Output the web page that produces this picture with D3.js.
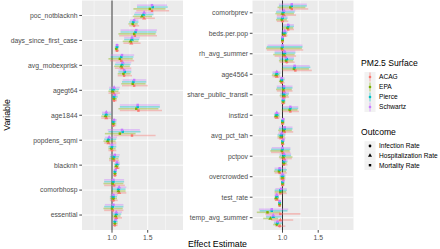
<!DOCTYPE html>
<html>
<head>
<meta charset="utf-8">
<script src="https://cdn.jsdelivr.net/npm/d3@7"></script>
<style>
  body { margin: 0; background: #fff; }
  text { font-family: "Liberation Sans", Arial, sans-serif; }
</style>
</head>
<body>
<svg id="chart" width="440" height="249"></svg>
<script>
// variables in each panel, top to bottom
const leftVars = ["poc_notblacknh", "days_since_first_case", "avg_mobexprisk", "agegt64",
  "age1844", "popdens_sqmi", "blacknh", "comorbhosp", "essential"];
const rightVars = ["comorbprev", "beds.per.pop", "rh_avg_summer", "age4564",
  "share_public_transit", "instlzd", "avg_pct_tah", "pctpov", "overcrowded",
  "test_rate", "temp_avg_summer"];
const surfaces = ["ACAG", "EPA", "Pierce", "Schwartz"];
const outcomes = ["Infection Rate", "Hospitalization Rate", "Mortality Rate"];
const xTicks = [1.0, 1.5];

// [estimate, lower, upper] per surface (ACAG, EPA, Pierce, Schwartz), one row per variable
const infection = {
  poc_notblacknh:        [[1.31,1.24,1.38],[1.29,1.23,1.36],[1.30,1.24,1.37],[1.31,1.25,1.37]],
  days_since_first_case: [[1.07,1.04,1.10],[1.06,1.04,1.09],[1.07,1.04,1.10],[1.07,1.05,1.10]],
  avg_mobexprisk:        [[1.17,1.08,1.28],[1.16,1.08,1.26],[1.18,1.09,1.27],[1.17,1.09,1.27]],
  agegt64:               [[1.03,1.00,1.07],[1.03,1.00,1.07],[1.03,1.00,1.08],[1.04,1.01,1.08]],
  age1844:               [[1.02,0.99,1.06],[1.02,0.99,1.06],[1.02,0.99,1.06],[1.03,1.00,1.07]],
  popdens_sqmi:          [[1.00,0.95,1.06],[0.99,0.95,1.05],[1.00,0.95,1.06],[1.00,0.96,1.06]],
  blacknh:               [[1.04,1.02,1.07],[1.04,1.02,1.07],[1.04,1.02,1.07],[1.05,1.02,1.07]],
  comorbhosp:            [[1.02,0.97,1.08],[1.02,0.97,1.07],[1.02,0.97,1.07],[1.02,0.98,1.08]],
  essential:             [[1.04,1.01,1.08],[1.04,1.01,1.08],[1.04,1.01,1.08],[1.05,1.02,1.08]],
  comorbprev:            [[1.00,0.92,1.08],[0.99,0.91,1.06],[1.00,0.92,1.07],[1.00,0.92,1.07]],
  "beds.per.pop":        [[1.00,0.98,1.02],[1.00,0.98,1.02],[1.00,0.99,1.02],[1.00,0.99,1.02]],
  rh_avg_summer:         [[1.06,0.96,1.17],[1.05,0.95,1.15],[1.06,0.96,1.16],[1.05,0.95,1.16]],
  age4564:               [[0.99,0.96,1.03],[0.98,0.95,1.02],[0.99,0.96,1.03],[0.99,0.96,1.03]],
  share_public_transit:  [[1.01,0.98,1.04],[1.01,0.98,1.04],[1.01,0.98,1.04],[1.01,0.99,1.04]],
  instlzd:               [[1.00,0.98,1.03],[1.00,0.98,1.03],[1.00,0.98,1.03],[1.01,0.99,1.03]],
  avg_pct_tah:           [[1.00,0.98,1.03],[1.00,0.98,1.02],[1.00,0.98,1.03],[1.01,0.99,1.03]],
  pctpov:                [[1.02,0.99,1.07],[1.02,0.99,1.06],[1.02,0.99,1.07],[1.03,1.00,1.07]],
  overcrowded:           [[1.00,0.98,1.03],[1.00,0.98,1.03],[1.00,0.98,1.03],[1.01,0.99,1.03]],
  test_rate:             [[0.96,0.94,0.98],[0.96,0.94,0.98],[0.96,0.94,0.98],[0.96,0.94,0.98]],
  temp_avg_summer:       [[0.96,0.90,1.04],[0.92,0.87,0.98],[0.93,0.88,1.00],[0.93,0.88,1.00]]
};
const hospitalization = {
  poc_notblacknh:        [[1.45,1.31,1.60],[1.42,1.29,1.56],[1.44,1.31,1.58],[1.45,1.32,1.58]],
  days_since_first_case: [[1.27,1.16,1.40],[1.26,1.15,1.37],[1.28,1.17,1.38],[1.28,1.17,1.39]],
  avg_mobexprisk:        [[1.14,1.04,1.27],[1.13,1.03,1.25],[1.14,1.04,1.26],[1.15,1.05,1.27]],
  agegt64:               [[1.02,0.95,1.11],[1.01,0.95,1.09],[1.02,0.96,1.10],[1.03,0.96,1.11]],
  age1844:               [[0.92,0.85,0.99],[0.91,0.85,0.98],[0.92,0.86,0.99],[0.92,0.86,0.99]],
  popdens_sqmi:          [[0.95,0.89,1.06],[0.94,0.88,1.05],[0.95,0.89,1.06],[0.96,0.90,1.07]],
  blacknh:               [[1.07,1.03,1.11],[1.06,1.03,1.10],[1.07,1.03,1.11],[1.07,1.04,1.11]],
  comorbhosp:            [[1.10,1.00,1.20],[1.09,0.99,1.19],[1.09,1.00,1.19],[1.10,1.01,1.20]],
  essential:             [[1.06,1.01,1.14],[1.05,1.00,1.12],[1.06,1.01,1.13],[1.06,1.01,1.14]],
  comorbprev:            [[1.02,0.92,1.19],[1.00,0.90,1.16],[1.01,0.91,1.17],[1.02,0.92,1.18]],
  "beds.per.pop":        [[1.03,0.98,1.07],[1.02,0.98,1.06],[1.03,0.98,1.07],[1.03,0.99,1.07]],
  rh_avg_summer:         [[1.03,0.89,1.19],[1.02,0.87,1.17],[1.03,0.89,1.18],[1.03,0.89,1.18]],
  age4564:               [[0.92,0.86,0.97],[0.91,0.85,0.96],[0.92,0.86,0.97],[0.92,0.86,0.97]],
  share_public_transit:  [[1.02,0.97,1.09],[1.02,0.96,1.08],[1.02,0.97,1.09],[1.03,0.97,1.09]],
  instlzd:               [[0.92,0.88,0.96],[0.91,0.88,0.96],[0.92,0.88,0.96],[0.92,0.89,0.96]],
  avg_pct_tah:           [[0.98,0.93,1.04],[0.98,0.93,1.03],[0.98,0.93,1.04],[0.99,0.94,1.04]],
  pctpov:                [[1.02,0.96,1.13],[1.01,0.95,1.14],[1.02,0.96,1.12],[1.02,0.96,1.12]],
  overcrowded:           [[1.00,0.96,1.04],[1.00,0.96,1.04],[1.00,0.96,1.04],[1.00,0.96,1.04]],
  test_rate:             [[0.92,0.89,0.95],[0.91,0.89,0.95],[0.92,0.89,0.95],[0.92,0.89,0.95]],
  temp_avg_summer:       [[0.97,0.84,1.15],[0.83,0.73,0.94],[0.87,0.77,0.99],[0.87,0.77,0.99]]
};
const mortality = {
  poc_notblacknh:        [[1.56,1.34,1.80],[1.53,1.30,1.75],[1.57,1.35,1.78],[1.56,1.35,1.77]],
  days_since_first_case: [[1.32,1.10,1.63],[1.31,1.09,1.61],[1.33,1.12,1.62],[1.34,1.12,1.63]],
  avg_mobexprisk:        [[1.13,0.97,1.31],[1.11,0.95,1.29],[1.13,0.98,1.30],[1.14,0.98,1.31]],
  agegt64:               [[1.31,1.14,1.50],[1.29,1.13,1.47],[1.30,1.14,1.48],[1.31,1.15,1.48]],
  age1844:               [[1.37,1.11,1.70],[1.34,1.09,1.65],[1.36,1.11,1.67],[1.36,1.11,1.67]],
  popdens_sqmi:          [[1.28,1.02,1.61],[1.11,0.90,1.33],[1.15,0.95,1.40],[1.14,0.94,1.39]],
  blacknh:               [[1.03,0.96,1.10],[1.02,0.96,1.09],[1.03,0.97,1.10],[1.04,0.97,1.11]],
  comorbhosp:            [[1.03,0.89,1.18],[1.01,0.88,1.16],[1.02,0.89,1.17],[1.02,0.89,1.17]],
  essential:             [[1.01,0.89,1.16],[1.00,0.88,1.15],[1.01,0.89,1.16],[1.02,0.90,1.16]],
  comorbprev:            [[1.13,0.95,1.36],[1.11,0.93,1.32],[1.13,0.95,1.34],[1.13,0.95,1.34]],
  "beds.per.pop":        [[1.08,1.01,1.16],[1.07,1.00,1.15],[1.08,1.01,1.16],[1.08,1.01,1.16]],
  rh_avg_summer:         [[1.00,0.78,1.29],[0.99,0.77,1.27],[1.00,0.78,1.28],[1.00,0.79,1.28]],
  age4564:               [[1.18,1.00,1.41],[1.16,0.99,1.37],[1.17,1.00,1.39],[1.17,1.00,1.38]],
  share_public_transit:  [[1.02,0.92,1.14],[1.01,0.91,1.13],[1.02,0.92,1.14],[1.02,0.92,1.14]],
  instlzd:               [[1.11,1.00,1.23],[1.10,0.99,1.21],[1.11,1.00,1.22],[1.11,1.00,1.22]],
  avg_pct_tah:           [[1.03,0.95,1.15],[1.02,0.94,1.13],[1.03,0.95,1.14],[1.03,0.95,1.14]],
  pctpov:                [[1.00,0.84,1.11],[0.99,0.83,1.10],[1.00,0.84,1.11],[1.00,0.85,1.11]],
  overcrowded:           [[0.96,0.89,1.06],[0.95,0.88,1.05],[0.96,0.89,1.06],[0.96,0.89,1.05]],
  test_rate:             [[0.97,0.89,1.06],[0.97,0.89,1.05],[0.97,0.89,1.06],[0.98,0.90,1.06]],
  temp_avg_summer:       [[0.97,0.76,1.25],[0.79,0.64,0.97],[0.85,0.68,1.07],[0.85,0.67,1.08]]
};
const outcomeData = [infection, hospitalization, mortality];

const colors = d3.scaleOrdinal().domain(surfaces)
  .range(["#F8766D", "#7CAE00", "#00BFC4", "#C77CFF"]);
const shapes = [d3.symbolCircle, d3.symbolTriangle, d3.symbolSquare];

const svg = d3.select("#chart");
const panelTop = 0.5, panelBottom = 230;

function drawPanel(vars, x0, x1) {
  let x = d3.scaleLinear().domain([0.58, 1.994]).range([x0, x1]);
  // ggplot style discrete expansion (0.6 of a step on each side)
  let y = d3.scalePoint().domain(vars).range([panelTop, panelBottom]).padding(0.6);
  let step = y.step();

  let g = svg.append("g");
  g.append("rect").attr("x", x0).attr("y", panelTop)
    .attr("width", x1 - x0).attr("height", panelBottom - panelTop).attr("fill", "#ebebeb");

  // minor grid
  g.selectAll(".minor").data([0.75, 1.25, 1.75]).enter().append("line")
    .attr("x1", d => x(d)).attr("x2", d => x(d)).attr("y1", panelTop).attr("y2", panelBottom)
    .attr("stroke", "#fff").attr("stroke-width", 0.45);
  // major grid
  g.selectAll(".majx").data(xTicks).enter().append("line")
    .attr("x1", d => x(d)).attr("x2", d => x(d)).attr("y1", panelTop).attr("y2", panelBottom)
    .attr("stroke", "#fff").attr("stroke-width", 0.9);
  g.selectAll(".majy").data(vars).enter().append("line")
    .attr("x1", x0).attr("x2", x1).attr("y1", d => y(d)).attr("y2", d => y(d))
    .attr("stroke", "#fff").attr("stroke-width", 0.9);

  // reference line at 1
  g.append("line").attr("x1", x(1)).attr("x2", x(1)).attr("y1", panelTop).attr("y2", panelBottom)
    .attr("stroke", "#333").attr("stroke-width", 1);

  // rows: 12 dodged groups per variable (outcome x surface), first at the bottom
  let rows = [];
  vars.forEach(v => {
    outcomeData.forEach((od, oi) => {
      od[v].forEach((t, si) => {
        let gi = oi * 4 + si;
        rows.push({ v: v, oi: oi, s: surfaces[si], est: t[0], lo: t[1], hi: t[2],
          yy: y(v) + (5.5 - gi) * 0.075 * step });
      });
    });
  });

  g.selectAll(".bar").data(rows).enter().append("line")
    .attr("x1", d => x(d.lo)).attr("x2", d => x(d.hi))
    .attr("y1", d => d.yy).attr("y2", d => d.yy)
    .attr("stroke", d => colors(d.s)).attr("stroke-width", 1.6)
    .attr("stroke-opacity", 0.4);

  g.selectAll(".pt").data(rows).enter().append("path")
    .attr("d", d => d3.symbol().type(shapes[d.oi]).size(d.oi == 1 ? 7 : 6)())
    .attr("transform", d => "translate(" + x(d.est) + "," + d.yy + ")")
    .attr("fill", d => colors(d.s));

  // y axis
  let ya = g.selectAll(".yt").data(vars).enter().append("g");
  ya.append("line").attr("x1", x0 - 2.7).attr("x2", x0).attr("y1", d => y(d)).attr("y2", d => y(d))
    .attr("stroke", "#333").attr("stroke-width", 0.9);
  ya.append("text").attr("x", x0 - 4.5).attr("y", d => y(d)).attr("dy", "0.35em")
    .attr("text-anchor", "end").attr("font-size", "6.8px").attr("fill", "#4d4d4d")
    .text(d => d);

  // x axis
  let xa = g.selectAll(".xt").data(xTicks).enter().append("g");
  xa.append("line").attr("x1", d => x(d)).attr("x2", d => x(d)).attr("y1", panelBottom).attr("y2", panelBottom + 2.7)
    .attr("stroke", "#333").attr("stroke-width", 0.9);
  xa.append("text").attr("x", d => x(d)).attr("y", panelBottom + 9.5)
    .attr("text-anchor", "middle").attr("font-size", "6.8px").attr("fill", "#4d4d4d")
    .text(d => d3.format(".1f")(d));
}

drawPanel(leftVars, 82, 183);
drawPanel(rightVars, 252.5, 353.5);

// axis titles
svg.append("text").attr("x", 217.5).attr("y", 247).attr("text-anchor", "middle")
  .attr("font-size", "8.8px").attr("fill", "#000").text("Effect Estimate");
svg.append("text").attr("transform", "translate(10,115) rotate(-90)").attr("text-anchor", "middle")
  .attr("font-size", "8.8px").attr("fill", "#000").text("Variable");

// legends
let lx = 361;
svg.append("text").attr("x", lx).attr("y", 66).attr("font-size", "8.6px").text("PM2.5 Surface");
let sk = svg.selectAll(".sk").data(surfaces).enter().append("g")
  .attr("transform", (d, i) => "translate(" + 370 + "," + (77 + i * 10) + ")");
sk.append("rect").attr("x", -5.5).attr("y", -5).attr("width", 11).attr("height", 10).attr("fill", "#f2f2f2");
sk.append("line").attr("y1", -4.5).attr("y2", 4.5).attr("stroke", d => colors(d))
  .attr("stroke-width", 1.6).attr("stroke-opacity", 0.4);
sk.append("circle").attr("r", 1.3).attr("fill", d => colors(d));
sk.append("text").attr("x", 9).attr("dy", "0.35em").attr("font-size", "6.6px").attr("fill", "#000").text(d => d);

svg.append("text").attr("x", lx).attr("y", 135).attr("font-size", "8.6px").text("Outcome");
let ok = svg.selectAll(".ok").data(outcomes).enter().append("g")
  .attr("transform", (d, i) => "translate(" + 370 + "," + (146 + i * 9.6) + ")");
ok.append("rect").attr("x", -5.5).attr("y", -4.8).attr("width", 11).attr("height", 9.6).attr("fill", "#f2f2f2");
ok.append("path").attr("d", (d, i) => d3.symbol().type(shapes[i]).size(i == 1 ? 7 : 6)()).attr("fill", "#000");
ok.append("text").attr("x", 9).attr("dy", "0.35em").attr("font-size", "6.6px").attr("fill", "#000").text(d => d);
</script>
</body>
</html>
